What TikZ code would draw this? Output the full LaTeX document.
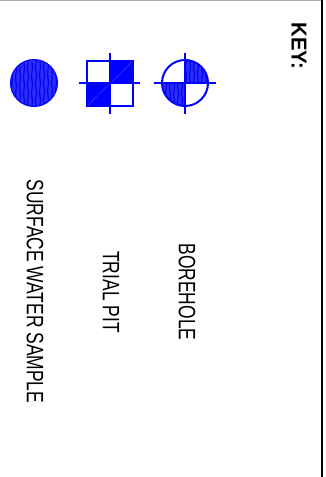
\documentclass[tikz,border=0pt]{standalone}
\usepackage{fontspec}
\setmainfont{Liberation Sans}
\newfontfamily\keyfont[FakeStretch=0.735]{Liberation Sans}
\newfontfamily\keyheadfont[FakeStretch=0.94]{Liberation Sans Bold}
\usetikzlibrary{decorations.pathmorphing}
\definecolor{keyblue}{RGB}{0, 0, 255}
\definecolor{hatchblue}{RGB}{45, 45, 255}
\definecolor{streakblue}{RGB}{5, 5, 235}
\definecolor{rulegray}{RGB}{170, 170, 170}

\begin{document}
\begin{tikzpicture}[
  x=1pt, y=-1pt,
  symline/.style={draw=keyblue, line width=2pt},
  crossline/.style={draw=keyblue, line width=1.6pt},
  hatchline/.style={draw=streakblue, line width=1.2pt,
    decorate, decoration={snake, amplitude=0.5pt, segment length=17pt}},
  keytext/.style={font=\keyfont\fontsize{23.7}{25}\selectfont, rotate=-90, inner sep=0pt},
  keyhead/.style={font=\keyheadfont\fontsize{21.6}{23}\selectfont, rotate=-90, inner sep=0pt}
]
\useasboundingbox (0,0) rectangle (326,477);

% Frame
\draw[rulegray, line width=1pt] (0,0) -- (321,0);
\draw[black, line width=2pt] (322,0) -- (322,477);

% Surface water sample
\coordinate (watercen) at (34,83);
\fill[hatchblue] (watercen) circle (23.5);
\begin{scope}
  \clip (watercen) circle (23.5);
  \foreach \x [count=\i] in {12,16,...,56}
    \draw[hatchline] (\x,{50+mod(\i*7,15)}) -- (\x,120);
\end{scope}
\draw[keyblue, line width=1pt] (watercen) circle (23.5);

% Trial pit
\coordinate (pitcen) at (110,83);
\fill[keyblue] (pitcen) rectangle (133,61);
\fill[keyblue] (pitcen) rectangle (87,106);
\draw[keyblue!65!white, line width=0.3pt] (87,106) -- (133,61);
\draw[symline] (87,61) rectangle (133,106);
\draw[crossline] (79,83) -- (140,83);
\draw[crossline] (110,53) -- (110,114);

% Borehole
\coordinate (borecen) at (185,83);
\begin{scope}
  \clip (borecen) rectangle (210,58) (borecen) rectangle (160,108);
  \fill[hatchblue] (borecen) circle (23);
  \begin{scope}
    \clip (borecen) circle (23);
    \foreach \x [count=\i] in {162,166,...,210}
      \draw[hatchline] (\x,{50+mod(\i*7,15)}) -- (\x,120);
  \end{scope}
\end{scope}
\draw[symline] (borecen) circle (23);
\draw[crossline] (154,83) -- (216,83);
\draw[crossline] (185,53) -- (185,114);

% Labels
\node[keyhead] (keytitle) at (299,46) {KEY:};
\node[keytext] (borelabel) at (187,292) {BOREHOLE};
\node[keytext] (pitlabel) at (111,292) {TRIAL PIT};
\node[keytext] (waterlabel) at (35,291.5) {SURFACE WATER SAMPLE};

\end{tikzpicture}
\end{document}
